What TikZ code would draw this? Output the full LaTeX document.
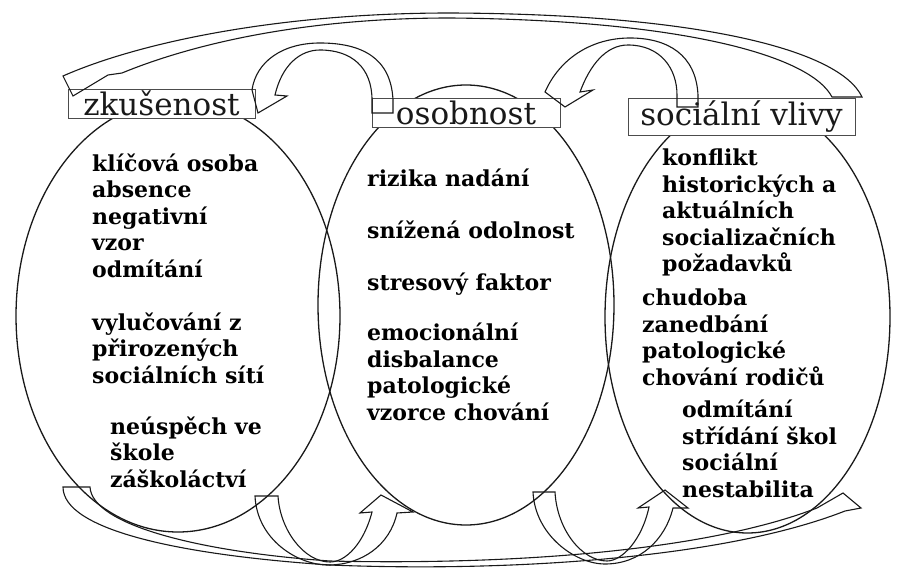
\documentclass[tikz,border=0pt]{standalone}
\usepackage{fontspec}
\setmainfont{DejaVu Serif}
\usepackage{tikz}
\usetikzlibrary{calc}

\begin{document}
\begin{tikzpicture}[x=1pt,y=-1pt,
    oval/.style={draw=black!90, line width=1.3pt},
    labelbox/.style={draw=black!70, line width=0.8pt, fill=white, inner sep=0pt,
        font=\fontsize{31}{31}\selectfont, text=black!90},
    item/.style={anchor=base west, inner sep=0pt, align=left,
        font=\bfseries\fontsize{22}{26.5}\selectfont, text=black},
    band/.style={draw=black!90, line width=1.1pt, line join=miter}
]
\useasboundingbox (0,0) rectangle (897,572);

% Ovals
\draw[oval] (178,316) ellipse [x radius=162pt, y radius=216pt];
\draw[oval] (466,305) ellipse [x radius=148pt, y radius=220pt];
\draw[oval] (747.5,317) ellipse [x radius=142.5pt, y radius=216pt];

% Headings
\node[labelbox, minimum width=187pt, minimum height=29pt] (zkusenost) at (161.5,103.5) {zkušenost};
\node[labelbox, minimum width=188pt, minimum height=29pt] (osobnost) at (466,112.5) {osobnost};
\node[labelbox, minimum width=227pt, minimum height=37pt] (vlivy) at (741.5,116.5) {sociální vlivy};

% Left oval (placed at the base of the last line)
\node[item] (zk1) at (92,277) {klíčová osoba\\absence\\negativní\\vzor\\odmítání};
\node[item] (zk2) at (92,383) {vylučování z\\přirozených\\sociálních sítí};
\node[item] (zk3) at (110,487) {neúspěch ve\\škole\\záškoláctví};

% Middle oval
\node[item] (os1) at (367,187) {rizika nadání};
\node[item] (os2) at (367,239) {snížená odolnost};
\node[item] (os3) at (367,290) {stresový faktor};
\node[item] (os4) at (367,420) {emocionální\\disbalance\\patologické\\vzorce chování};

% Right oval
\node[item] (sv1) at (662,272) {konflikt\\historických a\\aktuálních\\socializačních\\požadavků};
\node[item] (sv2) at (642,385) {chudoba\\zanedbání\\patologické\\chování rodičů};
\node[item] (sv3) at (682,497) {odmítání\\střídání škol\\sociální\\nestabilita};

% Top arc: vlivy over to zkusenost
\draw[band] (862,97) .. controls (840,50) and (700,14) .. (450,13)
    .. controls (280,13) and (140,42) .. (63,76)
    -- (73,96) -- (108,75) -- (122,73)
    .. controls (190,45) and (300,18) .. (450,18)
    .. controls (680,20) and (810,55) .. (832,97) -- cycle;

% osobnost -> zkusenost
\draw[band] (393,113) -- (393,100) .. controls (391,58) and (362,43) .. (320,43)
    .. controls (282,43) and (256,62) .. (252,90)
    -- (258,113) -- (287,96) -- (275,95)
    .. controls (282,65) and (300,50) .. (320,50)
    .. controls (352,50) and (372,68) .. (372,100) -- (372,113) -- cycle;

% vlivy -> osobnost
\draw[band] (698,107) -- (698,95) .. controls (696,55) and (668,38) .. (630,38)
    .. controls (592,38) and (560,58) .. (545,92)
    -- (565,107) -- (593,90) -- (580,92)
    .. controls (590,65) and (606,45) .. (628,45)
    .. controls (660,45) and (677,68) .. (677,95) -- (677,107) -- cycle;

% zkusenost -> osobnost (bottom)
\draw[band] (255,496) .. controls (257,540) and (298,565) .. (328,565)
    .. controls (362,565) and (390,545) .. (397,513)
    -- (413,512) -- (381,495) -- (360,513) -- (372,512)
    .. controls (364,543) and (346,562) .. (330,562)
    .. controls (304,562) and (280,530) .. (278,496) -- cycle;

% osobnost -> vlivy (bottom)
\draw[band] (533,492) .. controls (535,535) and (575,564) .. (605,564)
    .. controls (640,564) and (665,540) .. (673,508)
    -- (688,508) -- (665,490) -- (638,508) -- (649,507)
    .. controls (642,540) and (622,561) .. (607,561)
    .. controls (582,561) and (557,530) .. (555,492) -- cycle;

% Bottom arc: zkusenost round to vlivy
\draw[band] (63,487) .. controls (63,530) and (180,555) .. (330,565)
    .. controls (500,572) and (720,560) .. (845,511)
    -- (861,508) -- (843,493) -- (817,508)
    .. controls (700,553) and (500,565) .. (330,561)
    .. controls (200,552) and (92,525) .. (90,487) -- cycle;

\end{tikzpicture}
\end{document}
